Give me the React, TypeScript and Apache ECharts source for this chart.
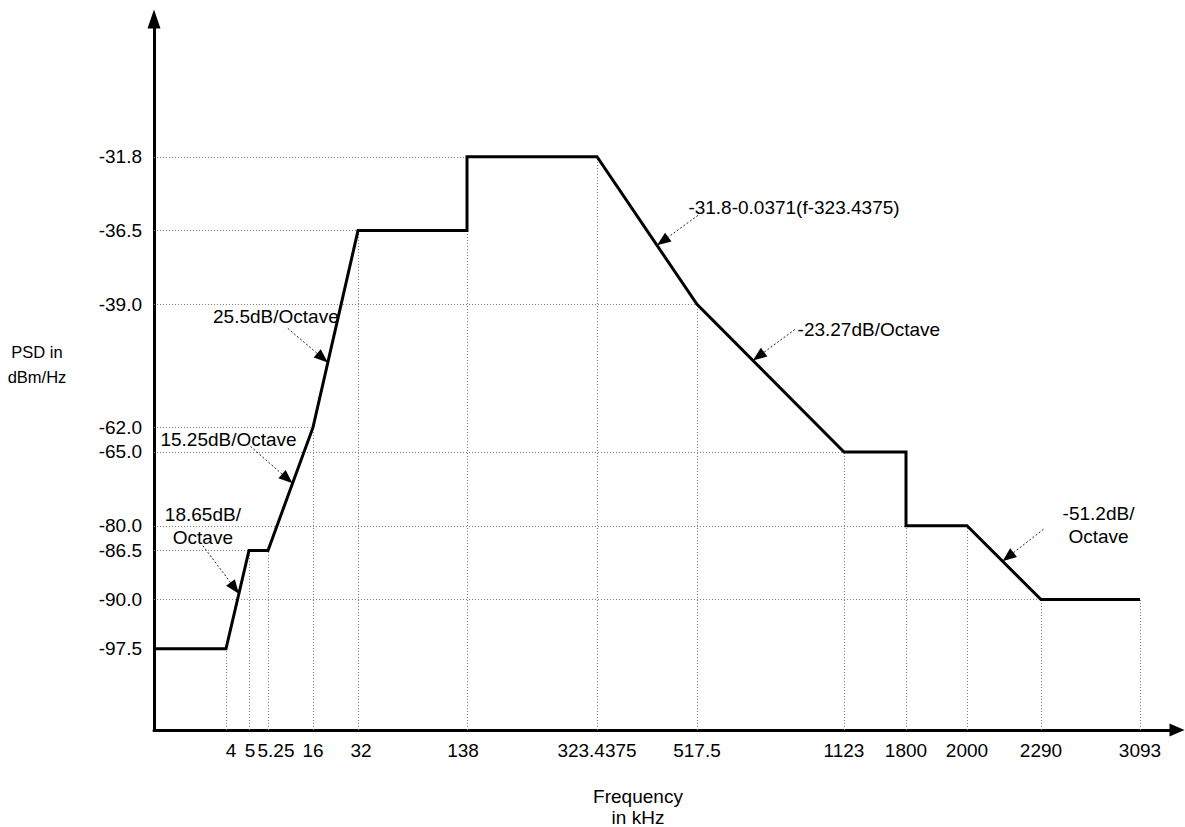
import React, { useEffect, useRef } from 'react';
import * as echarts from 'echarts';

// ---- Data: PSD mask breakpoints (frequency in kHz, PSD in dBm/Hz) ----
const maskFreqKHz = [0, 4, 5, 5.25, 16, 32, 138, 138, 323.4375, 517.5, 1123, 1800, 1800, 2000, 2290, 3093];
const maskPsdDbm = [-97.5, -97.5, -86.5, -86.5, -62.0, -36.5, -36.5, -31.8, -31.8, -39.0, -65.0, -65.0, -80.0, -80.0, -90.0, -90.0];

// ---- Tick labels ----
const freqTickLabels = ['4', '5', '5.25', '16', '32', '138', '323.4375', '517.5', '1123', '1800', '2000', '2290', '3093'];
const psdTickLabels = ['-31.8', '-36.5', '-39.0', '-62.0', '-65.0', '-80.0', '-86.5', '-90.0', '-97.5'];

// ---- Slope annotations ----
const slopeNotes = ['18.65dB/\nOctave', '15.25dB/Octave', '25.5dB/Octave', '-31.8-0.0371(f-323.4375)', '-23.27dB/Octave', '-51.2dB/\nOctave'];

const xAxisTitle = 'Frequency\nin kHz';
const yAxisTitle = 'PSD in\ndBm/Hz';

// ---- Schematic (non-uniform) axis scales ----
const X_SCALE_FREQ = [0, 4, 5, 5.25, 16, 32, 138, 323.4375, 517.5, 1123, 1800, 2000, 2290, 3093];
const X_SCALE_POS = [0, 72, 95, 114, 159, 204, 313, 443, 543, 690, 752, 813, 887, 986];
const X_AXIS_MIN = 0;
const X_AXIS_MAX = 1023;
const Y_SCALE_PSD = [-97.5, -90, -86.5, -80, -65, -62, -39, -36.5, -31.8];
const Y_SCALE_POS = [0, 2, 4, 5, 8, 9, 14, 17, 20];
const Y_AXIS_MIN = -3.3;
const Y_AXIS_MAX = 25.6;

// ---- Styling ----
const FONT = '"Liberation Sans", Arial, Helvetica, sans-serif';
const FS = 19;
const LABEL_NUDGE: Record<string, number> = { '4': 5, '5': 1, '5.25': 8, '32': 3, '138': -4 };
const NOTE_LAYOUT = [
  { seg: 1, t: 0.56, tail: [-36, -48], text: [-36, -68] },
  { seg: 3, t: 0.545, tail: [-42, -37], text: [-64, -44] },
  { seg: 4, t: 0.33, tail: [-40, -34], text: [-52, -46] },
  { seg: 8, t: 0.6, tail: [41, -30], text: [137, -38] },
  { seg: 9, t: 0.38, tail: [42, -31], text: [116, -31] },
  { seg: 13, t: 0.48, tail: [41, -32], text: [96, -36] },
];

function interp(keys: number[], vals: number[], k: number): number {
  for (let i = 0; i < keys.length - 1; i++) {
    if (k >= keys[i] && k <= keys[i + 1]) {
      const t = (k - keys[i]) / (keys[i + 1] - keys[i]);
      return vals[i] + t * (vals[i + 1] - vals[i]);
    }
  }
  return k < keys[0] ? vals[0] : vals[vals.length - 1];
}
const xScale = (f: number) => interp(X_SCALE_FREQ, X_SCALE_POS, f);
const yScale = (p: number) => interp(Y_SCALE_PSD, Y_SCALE_POS, p);

export default function App() {
  const ref = useRef<HTMLDivElement>(null);

  useEffect(() => {
    if (!ref.current) return;
    const chart = echarts.init(ref.current, null, { renderer: 'svg' });

    const maskData = maskFreqKHz.map((f, i) => [xScale(f), yScale(maskPsdDbm[i])]);

    // dotted guide lines
    const guides: any[] = [];
    freqTickLabels.forEach((l) => {
      const f = parseFloat(l);
      const ps = maskPsdDbm.filter((_, i) => maskFreqKHz[i] === f);
      const low = Math.min(...ps);
      guides.push({ coords: [[xScale(f), Y_AXIS_MIN], [xScale(f), yScale(low)]] });
    });
    psdTickLabels.forEach((l) => {
      const p = parseFloat(l);
      const idx = maskPsdDbm.findIndex((v) => v === p);
      const f = maskFreqKHz[idx];
      if (f > 0) guides.push({ coords: [[X_AXIS_MIN, yScale(p)], [xScale(f), yScale(p)]] });
    });

    const xPos = freqTickLabels.map((l) => xScale(parseFloat(l)));
    const yPos = psdTickLabels.map((l) => yScale(parseFloat(l)));

    const rich: Record<string, any> = {};
    freqTickLabels.forEach((l, i) => {
      const n = LABEL_NUDGE[l] || 0;
      rich['r' + i] = {
        fontSize: FS,
        fontFamily: FONT,
        color: '#000',
        lineHeight: 22,
        padding: n >= 0 ? [0, 0, 0, 2 * n] : [0, -2 * n, 0, 0],
      };
    });

    chart.setOption({
      animation: false,
      backgroundColor: '#fff',
      grid: { left: 154, right: 8, top: 19, bottom: 97, containLabel: false },
      xAxis: {
        type: 'value',
        min: X_AXIS_MIN,
        max: X_AXIS_MAX,
        axisLine: {
          onZero: false,
          lineStyle: { color: '#000', width: 3 },
          symbol: ['none', 'triangle'],
          symbolSize: [13, 15],
        },
        axisTick: { show: false },
        splitLine: { show: false },
        axisLabel: {
          customValues: xPos,
          margin: 9,
          fontSize: FS,
          fontFamily: FONT,
          color: '#000',
          lineHeight: 22,
          formatter: (v: number) => {
            const i = xPos.findIndex((p) => Math.abs(p - v) < 1e-6);
            return i < 0 ? '' : `{r${i}|${freqTickLabels[i]}}`;
          },
          rich,
        },
      },
      yAxis: {
        type: 'value',
        min: Y_AXIS_MIN,
        max: Y_AXIS_MAX,
        axisLine: {
          onZero: false,
          show: true,
          lineStyle: { color: '#000', width: 3 },
          symbol: ['none', 'triangle'],
          symbolSize: [13, 19],
        },
        axisTick: { show: false },
        splitLine: { show: false },
        axisLabel: {
          customValues: yPos,
          margin: 12,
          fontSize: FS,
          fontFamily: FONT,
          color: '#000',
          formatter: (v: number) => {
            const i = yPos.findIndex((p) => Math.abs(p - v) < 1e-6);
            return i < 0 ? '' : psdTickLabels[i];
          },
        },
      },
      series: [
        {
          type: 'lines',
          coordinateSystem: 'cartesian2d',
          polyline: false,
          silent: true,
          z: 1,
          data: guides,
          lineStyle: { color: '#808080', width: 1, type: [1, 2], opacity: 1 },
        },
        {
          type: 'line',
          data: maskData,
          showSymbol: false,
          silent: true,
          z: 3,
          lineStyle: { color: '#000', width: 3, join: 'miter', cap: 'butt' },
        },
      ],
    });

    // annotations anchored on the mask segments
    const graphics: any[] = [];
    NOTE_LAYOUT.forEach((n, k) => {
      const a = maskData[n.seg];
      const b = maskData[n.seg + 1];
      const u = [a[0] + n.t * (b[0] - a[0]), a[1] + n.t * (b[1] - a[1])];
      const tip = chart.convertToPixel({ gridIndex: 0 }, u) as number[];
      const tail = [tip[0] + n.tail[0], tip[1] + n.tail[1]];
      const dx = tip[0] - tail[0];
      const dy = tip[1] - tail[1];
      const len = Math.sqrt(dx * dx + dy * dy);
      const ux = dx / len;
      const uy = dy / len;
      const L = 14;
      const W = 5.5;
      const base = [tip[0] - ux * L, tip[1] - uy * L];
      graphics.push({
        type: 'line',
        silent: true,
        shape: { x1: tail[0], y1: tail[1], x2: base[0], y2: base[1] },
        style: { stroke: '#222', lineWidth: 1, lineDash: [2, 2] },
      });
      graphics.push({
        type: 'polygon',
        silent: true,
        shape: {
          points: [
            [tip[0], tip[1]],
            [base[0] - uy * W, base[1] + ux * W],
            [base[0] + uy * W, base[1] - ux * W],
          ],
        },
        style: { fill: '#000' },
      });
      graphics.push({
        type: 'text',
        silent: true,
        x: tip[0] + n.text[0],
        y: tip[1] + n.text[1],
        style: {
          text: slopeNotes[k],
          fontSize: FS,
          fontFamily: FONT,
          fill: '#000',
          align: 'center',
          verticalAlign: 'middle',
          lineHeight: 23,
        },
      });
    });
    graphics.push({
      type: 'text',
      silent: true,
      x: 37,
      y: 364,
      style: { text: yAxisTitle, fontSize: 16.5, fontFamily: FONT, fill: '#000', align: 'center', verticalAlign: 'middle', lineHeight: 25 },
    });
    graphics.push({
      type: 'text',
      silent: true,
      x: 638,
      y: 807,
      style: { text: xAxisTitle, fontSize: FS, fontFamily: FONT, fill: '#000', align: 'center', verticalAlign: 'middle', lineHeight: 21 },
    });
    chart.setOption({ graphic: graphics });

    return () => chart.dispose();
  }, []);

  return (
    <div
      ref={ref}
      style={{ position: 'fixed', left: 0, top: 0, width: 1185, height: 827, background: '#fff' }}
    />
  );
}
